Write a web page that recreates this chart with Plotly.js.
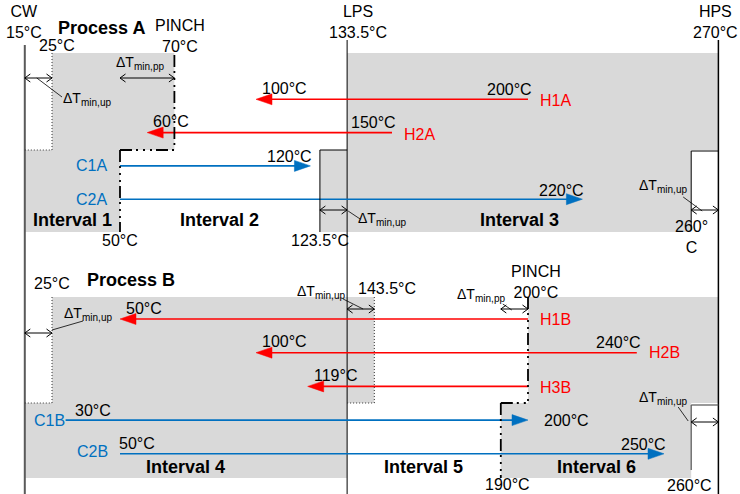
<!DOCTYPE html>
<html><head><meta charset="utf-8">
<script src="https://cdn.plot.ly/plotly-3.0.1.min.js"></script>
<style>html,body{margin:0;padding:0;background:#fff}#chart{width:740px;height:494px}</style>
</head><body><div id="chart"></div>
<script>
// ---------------- data ----------------
const utilityNames = ['CW', 'LPS', 'HPS'];
const utilityTemps = [15, 133.5, 270];

const processNames = ['Process A', 'Process B'];
const pinchHot  = [70, 200];
const pinchCold = [50, 190];
const lowLimit  = [25, 25];       // CW + ΔTmin,up
const lpsLimit  = [123.5, 143.5]; // LPS ∓ ΔTmin,up
const highLimit = [260, 260];     // HPS − ΔTmin,up

const streamsA = ['H1A', 'H2A', 'C1A', 'C2A'];
const supplyA  = [200, 150, 50, 50];
const targetA  = [100, 60, 120, 220];

const streamsB = ['H1B', 'H2B', 'H3B', 'C1B', 'C2B'];
const supplyB  = [200, 240, 200, 30, 50];
const targetB  = [50, 100, 119, 200, 250];

const intervalNames = ['Interval 1', 'Interval 2', 'Interval 3', 'Interval 4', 'Interval 5', 'Interval 6'];
const intervalLo = [15, 50, 133.5, 15, 133.5, 190];
const intervalHi = [50, 123.5, 260, 133.5, 190, 260];

// ---------------- layout helpers ----------------
const W = 740, H = 494;
const K = 2.72;                 // px per °C
const X0 = 15 - 24.8 / K;
const X1 = X0 + W / K;
const sh = (t, px) => t + px / K;
const Tpx = px => X0 + px / K;
const fmt = t => t + '°C';

const red = '#FF0000', blue = '#0070C0', grayFill = '#D9D9D9';
const FONT = 'Liberation Sans, Arial, sans-serif';
const DASHDOT = '12px,4px,2px,5px,2px,5px,2px,4px';
const DOT = '1px,2px';

const panels = [
  {top: 53,  split: 150, bot: 232, row0: 99.3, dy: 33.3, intY: 220},
  {top: 297, split: 403, bot: 478, row0: 319,  dy: 33.7, intY: 467}
];

const shapes = [], annotations = [], traces = [];

function rect(x0, x1, y0, y1) {
  shapes.push({type: 'rect', xref: 'x', yref: 'y', x0, x1, y0, y1, fillcolor: grayFill, line: {width: 0}, layer: 'below'});
}
function seg(x0, y0, x1, y1, dash, color, width) {
  shapes.push({type: 'line', xref: 'x', yref: 'y', x0, y0, x1, y1,
    line: {color: color || '#000', width: width || 1, dash: dash || 'solid'}});
}
function txt(text, x, y, opts) {
  const o = Object.assign({size: 16, color: '#000', xanchor: 'center', weight: 'normal'}, opts || {});
  annotations.push({text, x, y, xref: 'x', yref: 'y', showarrow: false, xanchor: o.xanchor, yanchor: 'middle',
    font: {family: FONT, size: o.size, color: o.color, weight: o.weight}});
}
// filled arrow head with tip at temperature t; dir = -1 points left, +1 points right
function head(t, y, dir, color) {
  const b = sh(t, -dir * 16);
  shapes.push({type: 'path', xref: 'x', yref: 'y',
    path: `M${t},${y} L${b},${y - 5.5} L${b},${y + 5.5} Z`,
    fillcolor: color, line: {color: color, width: 0.5}});
}
// open chevron head
function chev(t, y, dir) {
  const b = sh(t, -dir * 5.5);
  shapes.push({type: 'path', xref: 'x', yref: 'y',
    path: `M${b},${y - 4} L${t},${y} L${b},${y + 4}`,
    line: {color: '#000', width: 1}});
}
function dim(t0, t1, y) {
  seg(t0, y, t1, y, 'solid', '#000', 1);
  chev(t0, y, -1);
  chev(t1, y, 1);
}
// "ΔT" with a subscript, as two plain texts; anchor = 'left' | 'right' | 'center'
const DT_W = 18, SUB_W = 30;
function dT(sub, x, y, anchor) {
  let xl;
  if (anchor === 'left') xl = x;
  else if (anchor === 'right') xl = sh(x, -(DT_W + SUB_W));
  else xl = sh(x, -(DT_W + SUB_W) / 2);
  txt('ΔT', xl, y, {xanchor: 'left', size: 14});
  txt(sub, sh(xl, DT_W), y + 4, {xanchor: 'left', size: 10});
}

const [CW, LPS, HPS] = utilityTemps;
const A = panels[0], B = panels[1];

// ---------------- shaded regions ----------------
rect(lowLimit[0], pinchHot[0], A.top, A.split);
rect(LPS, HPS, A.top, A.split);
rect(CW, pinchCold[0], A.split, A.bot);
rect(lpsLimit[0], LPS, A.split, A.bot);
rect(LPS, highLimit[0], A.split, A.bot);

rect(lowLimit[1], lpsLimit[1], B.top, B.split);
rect(pinchHot[1], HPS, B.top, B.split);
rect(CW, LPS, B.split, B.bot);
rect(pinchCold[1], highLimit[1], B.split, B.bot);

// ---------------- region borders ----------------
seg(lowLimit[0], A.top, lowLimit[0], A.split, DOT, '#333', 1);
seg(CW, A.split, lowLimit[0], A.split, DOT, '#333', 1);
seg(pinchHot[0], A.top + 2, pinchHot[0], A.split, DASHDOT, '#000', 1.8);
seg(pinchCold[0], A.split, pinchHot[0], A.split, DASHDOT, '#000', 1.8);
seg(pinchCold[0], A.split, pinchCold[0], A.bot, DASHDOT, '#000', 1.8);
seg(lpsLimit[0], A.split, lpsLimit[0], A.bot, 'solid', '#000', 1);
seg(lpsLimit[0], A.split, LPS, A.split, 'solid', '#000', 1);
seg(highLimit[0], A.split + 1, highLimit[0], A.bot - 2, 'solid', '#000', 1);
seg(highLimit[0], A.split + 1, HPS, A.split + 1, 'solid', '#000', 1);

seg(lowLimit[1], B.top, lowLimit[1], B.split, DOT, '#333', 1);
seg(CW, B.split, lowLimit[1], B.split, DOT, '#333', 1);
seg(lpsLimit[1], B.top, lpsLimit[1], B.split, DOT, '#333', 1);
seg(LPS, B.split, lpsLimit[1], B.split, DOT, '#333', 1);
seg(pinchHot[1], B.top, pinchHot[1], B.split, DASHDOT, '#000', 1.8);
seg(pinchCold[1], B.split, pinchHot[1], B.split, DASHDOT, '#000', 1.8);
seg(pinchCold[1], B.split, pinchCold[1], B.bot, DASHDOT, '#000', 1.8);
seg(highLimit[1], B.split + 2, highLimit[1], B.bot - 8, 'solid', '#555', 1.2);
seg(highLimit[1], B.split + 2, HPS, B.split + 2, 'solid', '#555', 1.2);

// ---------------- utility lines ----------------
const utilTop = [45, 40, 40], utilColor = ['#5a5a5a', '#000', '#000'], utilWidth = [2, 1, 1.5], utilDx = [-1, 11, -3];
utilityNames.forEach((n, i) => {
  traces.push({type: 'scatter', mode: 'lines', x: [utilityTemps[i], utilityTemps[i]], y: [utilTop[i], H],
    line: {color: utilColor[i], width: utilWidth[i]}, hoverinfo: 'skip', showlegend: false});
  txt(n + '<br>' + fmt(utilityTemps[i]), sh(utilityTemps[i], utilDx[i]), 22);
});

// ---------------- streams ----------------
const showSupply = {H1A: 1, H2A: 1, H2B: 1, C1B: 1, C2B: 1};
const nameDx = {C1A: -11, C2A: -11, C1B: 1, C2B: -10};
const nameDy = {H1A: 1, H2A: 2, H3B: 1, C2B: -2};
const supDx = {C1B: 7, C2B: -3};

function drawStreams(names, sup, tgt, p) {
  names.forEach((n, i) => {
    const y = p.row0 + i * p.dy;
    const hot = sup[i] > tgt[i];
    const c = hot ? red : blue;
    const dir = hot ? -1 : 1;
    traces.push({type: 'scatter', mode: 'lines', x: [sup[i], sh(tgt[i], -dir * 10)], y: [y, y],
      line: {color: c, width: 1.6}, hoverinfo: 'skip', showlegend: false});
    head(tgt[i], y, dir, c);
    const ndy = nameDy[n] || 0;
    if (hot) {
      txt(n, sh(sup[i], 10), y + ndy, {xanchor: 'left', color: red});
      if (showSupply[n]) txt(fmt(sup[i]), sh(sup[i], 6), y - 10, {xanchor: 'right'});
      txt(fmt(tgt[i]), sh(tgt[i], 4), y - 11, {xanchor: 'left'});
    } else {
      txt(n, sh(sup[i], nameDx[n] !== undefined ? nameDx[n] : -10), y + ndy, {xanchor: 'right', color: blue});
      if (showSupply[n]) txt(fmt(sup[i]), sh(sup[i], supDx[n] || 5), y - 10, {xanchor: 'left'});
      if (n === 'C1B') txt(fmt(tgt[i]), sh(tgt[i], 14), y, {xanchor: 'left'});
      else txt(fmt(tgt[i]), sh(tgt[i], 4), y - 9, {xanchor: 'right'});
    }
  });
}
drawStreams(streamsA, supplyA, targetA, A);
drawStreams(streamsB, supplyB, targetB, B);

// ---------------- interval & process labels ----------------
intervalNames.forEach((n, i) => {
  const p = i < 3 ? A : B;
  txt(n, (intervalLo[i] + intervalHi[i]) / 2, p.intY, {size: 18, weight: 'bold'});
});
txt(processNames[0], Tpx(101), 28, {size: 18, weight: 'bold'});
txt(processNames[1], Tpx(131), 280, {size: 18, weight: 'bold'});

// ---------------- temperature markers ----------------
txt('PINCH<br>' + fmt(pinchHot[0]), sh(pinchHot[0], 6), 36);
txt('PINCH<br>' + fmt(pinchHot[1]), sh(pinchHot[1], 8), 281.5);
txt(fmt(lowLimit[0]), sh(lowLimit[0], 5), 45);
txt(fmt(lowLimit[1]), sh(lowLimit[1], 0), 283);
txt(fmt(pinchCold[0]), pinchCold[0], 240);
txt(fmt(lpsLimit[0]), lpsLimit[0], 240);
txt(highLimit[0] + '°<br>C', highLimit[0], 236.5);
txt(fmt(lpsLimit[1]), sh(lpsLimit[1], 13), 288);
txt(fmt(pinchCold[1]), sh(pinchCold[1], 7), 484);
txt(fmt(highLimit[1]), sh(highLimit[1], -2), 485);

// ---------------- ΔTmin annotations ----------------
dim(CW, lowLimit[0], 78);
dim(pinchCold[0], pinchHot[0], 78);
dim(lpsLimit[0], LPS, 210);
dim(highLimit[0], HPS, 210);
dim(CW, lowLimit[1], 333);
dim(LPS, lpsLimit[1], 309);
dim(pinchCold[1], pinchHot[1], 309);
dim(highLimit[1], HPS, 422);

dT('min,up', sh(lowLimit[0], 9), 98, 'left');
dT('min,pp', sh((pinchCold[0] + pinchHot[0]) / 2, -9), 62, 'center');
dT('min,up', sh(LPS, 9), 218, 'left');
dT('min,up', sh(highLimit[0], -6), 185, 'right');
dT('min,up', sh(lowLimit[1], 10), 313, 'left');
dT('min,up', sh(LPS, -4), 291, 'right');
dT('min,pp', sh(pinchCold[1], 2), 294, 'right');
dT('min,up', sh(highLimit[1], -6), 397, 'right');

seg(sh(CW, 12), 78, sh(lowLimit[0], 10), 97, 'solid', '#000', 0.8);
seg(sh(LPS, 1), 211, sh(LPS, 13), 219, 'solid', '#000', 0.8);
seg(sh(highLimit[0], -8), 197, sh(highLimit[0], 11), 211, 'solid', '#000', 0.8);
seg(sh(lowLimit[1], 0), 330, sh(lowLimit[1], 31), 321, 'solid', '#000', 0.8);
seg(sh(LPS, -4), 299, sh(LPS, 16), 309, 'solid', '#000', 0.8);
seg(sh(pinchCold[1], 2), 304, sh(pinchCold[1], 11), 310, 'solid', '#000', 0.8);
seg(sh(highLimit[1], -13), 407, sh(highLimit[1], -3), 421, 'solid', '#000', 0.8);

// ---------------- render ----------------
const layout = {
  width: W, height: H,
  margin: {l: 0, r: 0, t: 0, b: 0, pad: 0},
  paper_bgcolor: '#fff', plot_bgcolor: '#fff',
  xaxis: {range: [X0, X1], visible: false, fixedrange: true},
  yaxis: {range: [H, 0], visible: false, fixedrange: true},
  showlegend: false, hovermode: false,
  font: {family: FONT, size: 16, color: '#000'},
  shapes, annotations
};
Plotly.newPlot('chart', traces, layout, {displayModeBar: false, staticPlot: true});
</script>
</body></html>
